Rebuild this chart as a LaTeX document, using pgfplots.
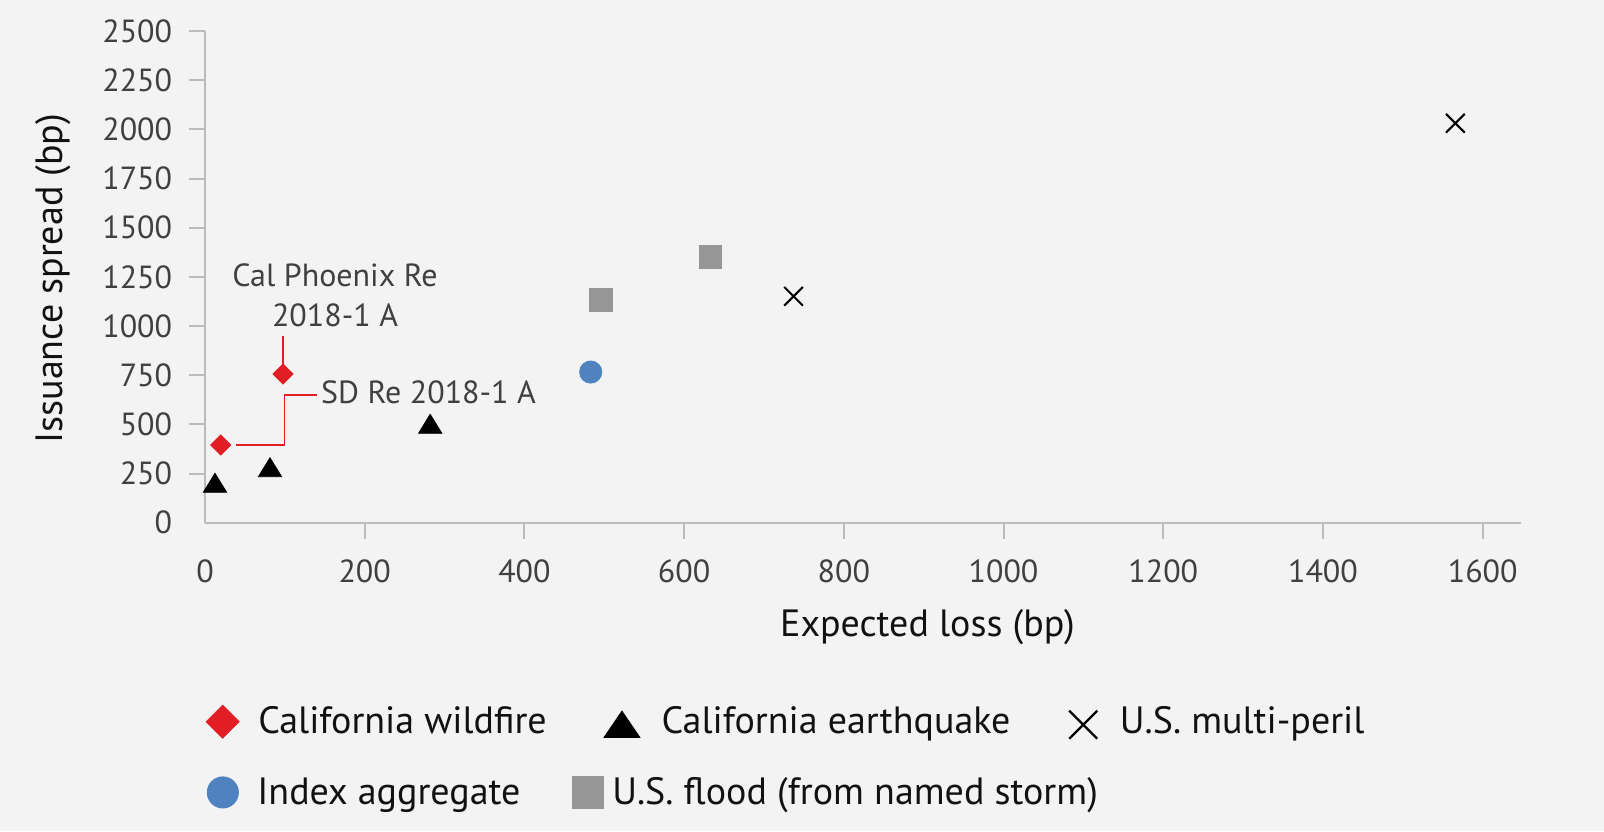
\documentclass[border=0pt]{standalone}
\usepackage{fontspec}
\setmainfont{PT Sans}
\usepackage{pgfplots}
\pgfplotsset{compat=1.18}
\definecolor{bg}{HTML}{F2F3F2}
\definecolor{wred}{HTML}{E11D25}
\definecolor{iblue}{HTML}{5082C0}
\definecolor{fgray}{HTML}{969696}
\definecolor{axgray}{HTML}{BBBBBB}
\definecolor{txt}{HTML}{404040}
\definecolor{ttl}{HTML}{111111}
\newcommand{\lfont}{\fontsize{19}{23}\selectfont}
\newcommand{\tfont}{\fontsize{16}{19}\selectfont}
\pgfplotsset{
  myframe/.style={at={(102.5pt,154.15pt)}, anchor=south west, scale only axis,
    width=658pt, height=245.85pt, xmin=0, xmax=1648, ymin=0, ymax=2500},
  lgd/.style={draw=none, fill=none, inner sep=0pt, outer sep=0pt, font=\lfont,
    text=ttl, anchor=west, nodes={inner sep=0pt, outer sep=0pt}, cells={anchor=base west}},
  limg/.style={legend image code/.code={\draw[##1] plot coordinates {(0pt,#1)};}},
}
\begin{document}
\begin{tikzpicture}
\fill[bg] (0,0) rectangle (802pt,415.5pt);
\begin{axis}[myframe, clip=false,
  axis x line=bottom, axis y line=left,
  axis line style={axgray, line width=1pt, -},
  xtick={200,400,...,1600}, ytick={250,500,...,2500},
  extra x ticks={0}, extra y ticks={0},
  extra tick style={major tick style={draw=none}},
  tick align=outside, major tick length=8.25pt,
  tick style={axgray, line width=1pt},
  tick label style={font=\tfont, text=txt, inner sep=0pt},
  xticklabel style={anchor=north, yshift=-10pt},
  yticklabel style={anchor=east, xshift=-8pt},
  /pgf/number format/assume math mode=true,
  /pgf/number format/1000 sep={},
  xlabel={Expected loss (bp)}, ylabel={Issuance spread (bp)},
  label style={font=\lfont, text=ttl},
  x label style={at={(axis description cs:0.549,-0.2115)}, anchor=center},
  y label style={at={(axis description cs:-0.1155,0.496)}, anchor=center},
  legend columns=3,
  legend style={lgd, at={(0.0009,-0.4015)},
    /tikz/column 1/.style={column sep=9.55pt},
    /tikz/column 3/.style={column sep=10.85pt},
    /tikz/column 5/.style={column sep=11.35pt}},
]
% leader lines
\addplot[wred, line width=0.75pt, no marks, sharp plot, forget plot] coordinates {(97.7,951) (97.7,790)};
\addplot[wred, line width=0.75pt, no marks, sharp plot, forget plot] coordinates {(38.4,395) (99.3,395) (99.3,649) (139.9,649)};
% data
\addplot[only marks, mark=square*, mark size=3.54pt, mark options={rotate=45, fill=wred, draw=wred}, forget plot]
  coordinates {(19.7,395) (97.7,756)};
\addplot[only marks, mark=triangle*, mark size=6.33pt, mark options={xscale=1.06, yshift=-1.58pt, fill=black, draw=black}, forget plot]
  coordinates {(12.5,203) (81.4,282) (282,503)};
\addplot[only marks, mark=x, mark size=6.6pt, mark options={draw=black, line width=1pt}, forget plot]
  coordinates {(737,1151) (1565.8,2031)};
\addplot[only marks, mark=*, mark size=5.55pt, mark options={fill=iblue, draw=iblue}, forget plot]
  coordinates {(483,766)};
\addplot[only marks, mark=square*, mark size=5.7pt, mark options={fill=fgray, draw=fgray}, forget plot]
  coordinates {(495.6,1134) (632.8,1352)};
% legend row 1
\addlegendimage{only marks, mark=square*, mark size=5.83pt, mark options={rotate=45, fill=wred, draw=wred}, limg=6pt}
\addlegendentry{\makebox[172.85pt][l]{California wildfire\strut}}
\addlegendimage{only marks, mark=triangle*, mark size=8.8pt, mark options={xscale=1.18, fill=black, draw=black}, limg=2.5pt}
\addlegendentry{\makebox[203.8pt][l]{California earthquake\strut}}
\addlegendimage{only marks, mark=x, mark size=9.9pt, mark options={draw=black, line width=1.15pt}, limg=4.5pt}
\addlegendentry{U.S. multi-peril\strut}
% annotations
\node[font=\tfont, text=txt, anchor=base, inner sep=0pt] at (axis cs:162.8,1200) {Cal Phoenix Re};
\node[font=\tfont, text=txt, anchor=base, inner sep=0pt] at (axis cs:162.8,1000) {2018-1 A};
\node[font=\tfont, text=txt, anchor=base west, inner sep=0pt] at (axis cs:144.9,607) {SD Re 2018-1 A};
\end{axis}
\begin{axis}[myframe, hide axis, legend columns=2,
  legend style={lgd, at={(0.0017,-0.5439)},
    /tikz/column 1/.style={column sep=9.5pt},
    /tikz/column 3/.style={column sep=4.5pt}}]
\addlegendimage{only marks, mark=*, mark size=7.8pt, mark options={fill=iblue, draw=iblue}, limg=6pt}
\addlegendentry{\makebox[157.35pt][l]{Index aggregate\strut}}
\addlegendimage{only marks, mark=square*, mark size=7.8pt, mark options={fill=fgray, draw=fgray}, limg=6pt}
\addlegendentry{U.S. flood (from named storm)\strut}
\end{axis}
\pgfresetboundingbox
\path[use as bounding box] (0,0) rectangle (802pt,415.5pt);
\end{tikzpicture}
\end{document}
